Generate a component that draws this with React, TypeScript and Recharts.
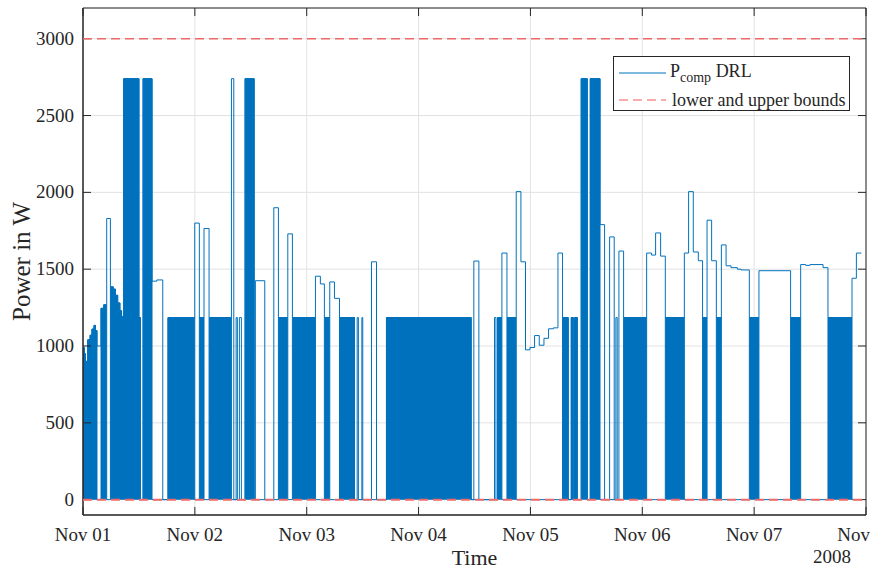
import React from 'react';
import { ComposedChart, Area, Line, XAxis, YAxis, CartesianGrid, Legend, ReferenceArea, Label } from 'recharts';

// ---------- data ----------
const dayTicks = [0, 1, 2, 3, 4, 5, 6, 7];
const dayLabels = ['Nov 01', 'Nov 02', 'Nov 03', 'Nov 04', 'Nov 05', 'Nov 06', 'Nov 07', 'Nov'];
const yearLabel = '2008';
const powerTicks = [0, 500, 1000, 1500, 2000, 2500, 3000];
const legendLabels = ['DRL', 'lower and upper bounds'];

// start of each segment, in days since Nov 01 00:00
const segStart = [
  0.000, 0.012, 0.022, 0.036, 0.042, 0.063, 0.080, 0.098, 0.112, 0.125,
  0.161, 0.185, 0.212, 0.245, 0.270, 0.290, 0.310, 0.330, 0.345, 0.364,
  0.500, 0.513, 0.537, 0.617, 0.660, 0.713, 0.760, 0.999, 1.040, 1.082,
  1.127, 1.327, 1.348, 1.369, 1.380, 1.398, 1.416, 1.449, 1.530, 1.541,
  1.625, 1.706, 1.747, 1.831, 1.872, 2.078, 2.122, 2.158, 2.206, 2.248,
  2.293, 2.427, 2.451, 2.462, 2.493, 2.501, 2.579, 2.624, 2.713, 3.470,
  3.494, 3.539, 3.679, 3.692, 3.706, 3.745, 3.790, 3.873, 3.915, 3.956,
  3.995, 4.037, 4.079, 4.121, 4.162, 4.205, 4.246, 4.287, 4.338, 4.365,
  4.383, 4.395, 4.419, 4.454, 4.508, 4.535, 4.622, 4.663, 4.708, 4.749,
  4.764, 4.776, 4.791, 4.833, 5.039, 5.083, 5.119, 5.164, 5.206, 5.376,
  5.414, 5.456, 5.501, 5.539, 5.579, 5.620, 5.662, 5.707, 5.749, 5.793,
  5.850, 5.883, 5.957, 6.043, 6.326, 6.416, 6.461, 6.500, 6.616, 6.660,
  6.875, 6.914,
];
// power level of each segment (W)
const segPower = [
  990, 950, 900, 0, 1040, 1070, 1110, 1134, 1100, 1000,
  1245, 1268, 1830, 1385, 1370, 1330, 1280, 1230, 1190, 2740,
  1185, 0, 2740, 1422, 1430, 0, 1185, 1800, 1185, 1765,
  1185, 2740, 0, 1185, 0, 1185, 0, 2740, 0, 1425,
  0, 1900, 1185, 1730, 1185, 1454, 1404, 1185, 1417, 1310,
  1185, 0, 1185, 0, 1185, 0, 1548, 0, 1185, 0,
  1553, 0, 1185, 0, 1185, 1605, 1185, 2005, 1548, 975,
  990, 1068, 1005, 1050, 1112, 1118, 1605, 1185, 0, 1185,
  0, 1185, 0, 2740, 0, 2740, 1790, 0, 1710, 0,
  1185, 0, 1618, 1185, 1605, 1592, 1736, 1585, 1185, 1605,
  2005, 1612, 1555, 1185, 1819, 1555, 1185, 1658, 1522, 1510,
  1500, 1495, 1185, 1490, 1185, 1530, 1525, 1530, 1510, 1185,
  1441, 1605,
];
// 1 = compressor switching on/off rapidly (drawn as a filled block), 0 = steady
const segSwitching = [
  1, 1, 1, 0, 1, 1, 1, 1, 1, 0,
  1, 1, 0, 1, 1, 1, 1, 1, 1, 1,
  1, 0, 1, 0, 0, 0, 1, 0, 1, 0,
  1, 0, 0, 0, 0, 0, 0, 1, 0, 0,
  0, 0, 1, 0, 1, 0, 0, 1, 0, 0,
  1, 0, 0, 0, 0, 0, 0, 0, 1, 0,
  0, 0, 0, 0, 1, 0, 1, 0, 0, 0,
  0, 0, 0, 0, 0, 0, 0, 1, 0, 1,
  0, 1, 0, 1, 0, 1, 0, 0, 0, 0,
  0, 0, 0, 1, 0, 0, 0, 0, 1, 0,
  0, 0, 0, 1, 0, 0, 1, 0, 0, 0,
  0, 0, 1, 0, 1, 0, 0, 0, 0, 1,
  0, 0,
];
const seriesEnd = 6.959;
const axisEnd = 7;
const boundTimes = [0, 7];
const lowerBound = 0;
const upperBound = 3000;

// ---------- chart tables ----------
type Pt = { t: number; p: number | null; dense: number | null };
const chartData: Pt[] = segStart.map((t, i) => ({
  t,
  p: segPower[i],
  dense: segSwitching[i] ? segPower[i] : 0,
}));
const lastIdx = segStart.length - 1;
chartData.push({ t: seriesEnd, p: segPower[lastIdx], dense: segSwitching[lastIdx] ? segPower[lastIdx] : 0 });

const boundData = boundTimes.map((t) => ({ t, lower: lowerBound, upper: upperBound }));

// ---------- layout / style ----------
const W = 871;
const H = 570;
const Y_AXIS_W = 83;
const X_AXIS_H = 55;
const MARGIN = { top: 8, right: 5, bottom: 0, left: 0 };
const PLOT_LEFT = MARGIN.left + Y_AXIS_W;
const PLOT_RIGHT = W - MARGIN.right;
const PLOT_TOP = MARGIN.top;
const PLOT_BOTTOM = H - MARGIN.bottom - X_AXIS_H;
const Y_DOMAIN: [number, number] = [-100, 3200];
const TICK_LEN = 8;
const BLUE = '#0072BD';
const BOUND = '#f06a6a';
const AXIS = '#262626';
const GRID = '#e2e2e2';
const FONT = '"Liberation Serif", "Times New Roman", serif';
const TICK_FONT = 19;

const XTick = (props: any) => {
  const { x, payload, index } = props;
  const last = index === dayTicks.length - 1;
  return (
    <g>
      <line x1={x} x2={x} y1={PLOT_BOTTOM} y2={PLOT_BOTTOM - TICK_LEN} stroke={AXIS} strokeWidth={1} />
      <line x1={x} x2={x} y1={PLOT_TOP} y2={PLOT_TOP + TICK_LEN} stroke={AXIS} strokeWidth={1} />
      <text
        x={last ? W - 1 : x}
        y={PLOT_BOTTOM + 26}
        textAnchor={last ? 'end' : 'middle'}
        fontFamily={FONT}
        fontSize={TICK_FONT}
        fill={AXIS}
      >
        {dayLabels[index] ?? String(payload.value)}
      </text>
    </g>
  );
};

const YTick = (props: any) => {
  const { y, payload } = props;
  return (
    <g>
      <line x1={PLOT_LEFT} x2={PLOT_LEFT + TICK_LEN} y1={y} y2={y} stroke={AXIS} strokeWidth={1} />
      <line x1={PLOT_RIGHT} x2={PLOT_RIGHT - TICK_LEN} y1={y} y2={y} stroke={AXIS} strokeWidth={1} />
      <text x={PLOT_LEFT - 9} y={y + 6} textAnchor="end" fontFamily={FONT} fontSize={TICK_FONT} fill={AXIS}>
        {String(payload.value)}
      </text>
    </g>
  );
};

const LegendBox = () => (
  <div
    style={{
      width: 237,
      height: 55,
      boxSizing: 'border-box',
      border: `1px solid ${AXIS}`,
      background: '#fff',
      position: 'relative',
    }}
  >
    <svg width={235} height={53} style={{ position: 'absolute', left: 0, top: 0 }}>
      <line x1={5} x2={52} y1={16} y2={16} stroke={BLUE} strokeWidth={1} />
      <line x1={5} x2={52} y1={43} y2={43} stroke={BOUND} strokeWidth={1.5} strokeDasharray="9 5" strokeOpacity={0.75} />
      <text x={56} y={20} fontFamily={FONT} fontSize={18} fill={AXIS}>
        P
        <tspan fontSize={14} dy={5}>comp</tspan>
        <tspan fontSize={18} dy={-5}>{' ' + legendLabels[0]}</tspan>
      </text>
      <text x={58} y={49} fontFamily={FONT} fontSize={18} fill={AXIS}>
        {legendLabels[1]}
      </text>
    </svg>
  </div>
);

export default function App() {
  const yMid = (PLOT_TOP + PLOT_BOTTOM) / 2;
  return (
    <div style={{ position: 'absolute', left: 0, top: 0, width: W, height: H, overflow: 'hidden', background: '#fff' }}>
      <div style={{ position: 'absolute', left: 0, top: 0 }}>
        <ComposedChart width={W} height={H} data={chartData} margin={MARGIN}>
          <CartesianGrid stroke={GRID} strokeWidth={1} />
          <XAxis
            dataKey="t"
            type="number"
            domain={[0, axisEnd]}
            ticks={dayTicks}
            interval={0}
            allowDataOverflow
            height={X_AXIS_H}
            tickLine={false}
            axisLine={{ stroke: AXIS }}
            tick={<XTick />}
          >
            <Label
              content={() => (
                <g>
                  <text x={(PLOT_LEFT + PLOT_RIGHT) / 2} y={H - 5} textAnchor="middle" fontFamily={FONT} fontSize={22} fill={AXIS}>
                    Time
                  </text>
                  <text x={832} y={H - 7} textAnchor="middle" fontFamily={FONT} fontSize={TICK_FONT} fill={AXIS}>
                    {yearLabel}
                  </text>
                </g>
              )}
            />
          </XAxis>
          <YAxis
            type="number"
            domain={Y_DOMAIN}
            ticks={powerTicks}
            interval={0}
            allowDataOverflow
            width={Y_AXIS_W}
            tickLine={false}
            axisLine={{ stroke: AXIS }}
            tick={<YTick />}
          >
            <Label
              content={() => (
                <text
                  x={30}
                  y={yMid}
                  transform={`rotate(-90, 30, ${yMid})`}
                  textAnchor="middle"
                  fontFamily={FONT}
                  fontSize={25}
                  fill={AXIS}
                >
                  Power in W
                </text>
              )}
            />
          </YAxis>
          <Area
            type="stepAfter"
            dataKey="dense"
            baseValue={0}
            stroke={BLUE}
            strokeWidth={1}
            fill={BLUE}
            fillOpacity={1}
            dot={false}
            activeDot={false}
            isAnimationActive={false}
          />
          <Line
            type="stepAfter"
            dataKey="p"
            stroke={BLUE}
            strokeWidth={1}
            dot={false}
            activeDot={false}
            isAnimationActive={false}
          />
          <ReferenceArea x1={0} x2={axisEnd} y1={Y_DOMAIN[0]} y2={Y_DOMAIN[1]} fill="none" stroke={AXIS} strokeWidth={1} ifOverflow="visible" />
        </ComposedChart>
      </div>
      {/* overlay: bounds drawn on top of the power trace, same scales */}
      <div style={{ position: 'absolute', left: 0, top: 0, pointerEvents: 'none' }}>
        <ComposedChart width={W} height={H} data={boundData} margin={MARGIN}>
          <XAxis
            dataKey="t"
            type="number"
            domain={[0, axisEnd]}
            allowDataOverflow
            height={X_AXIS_H}
            tick={false}
            tickLine={false}
            axisLine={false}
          />
          <YAxis type="number" domain={Y_DOMAIN} allowDataOverflow width={Y_AXIS_W} tick={false} tickLine={false} axisLine={false} />
          <Line
            type="linear"
            dataKey="lower"
            stroke={BOUND}
            strokeWidth={2}
            strokeDasharray="9 5"
            dot={false}
            activeDot={false}
            isAnimationActive={false}
          />
          <Line
            type="linear"
            dataKey="upper"
            stroke={BOUND}
            strokeWidth={1.5}
            strokeDasharray="9 5"
            dot={false}
            activeDot={false}
            isAnimationActive={false}
          />
          <Legend
            layout="horizontal"
            verticalAlign="middle"
            align="center"
            content={() => <LegendBox />}
            wrapperStyle={{ left: 613, top: 56, width: 237, height: 55 }}
          />
        </ComposedChart>
      </div>
    </div>
  );
}
